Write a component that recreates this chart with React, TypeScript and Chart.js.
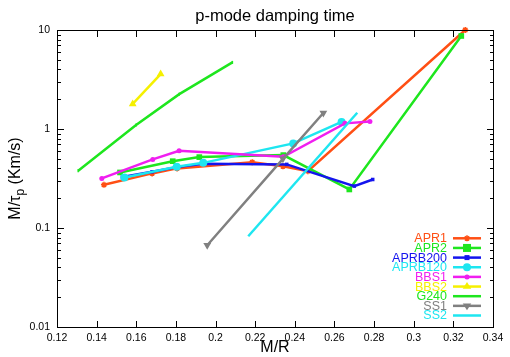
import React, { useEffect, useRef, useState } from "react";
import { Chart, registerables } from "chart.js";

Chart.register(...registerables);

// ---- data ----
const apr1X = [0.1437, 0.168, 0.1806, 0.2185, 0.234, 0.2466, 0.326];
const apr1Y = [0.273, 0.356, 0.4, 0.462, 0.42, 0.375, 10];

const apr2X = [0.1518, 0.1784, 0.1918, 0.2342, 0.2675, 0.324];
const apr2Y = [0.364, 0.473, 0.52, 0.545, 0.245, 8.7];

const aprb200X = [0.153, 0.168, 0.1804, 0.1938, 0.2359, 0.27, 0.2793];
const aprb200Y = [0.327, 0.37, 0.412, 0.445, 0.439, 0.265, 0.309];

const aprb120X = [0.154, 0.1804, 0.1938, 0.2392, 0.2636];
const aprb120Y = [0.324, 0.415, 0.455, 0.715, 1.18];

const bbs1X = [0.1426, 0.1683, 0.1816, 0.2342, 0.2653, 0.2779];
const bbs1Y = [0.317, 0.493, 0.602, 0.524, 1.14, 1.19];

const bbs2X = [0.1582, 0.1723];
const bbs2Y = [1.79, 3.59];

const g240X = [0.1307, 0.1599, 0.1817, 0.2085];
const g240Y = [0.378, 1.095, 2.25, 4.71];

const ss1X = [0.1958, 0.234, 0.2544];
const ss1Y = [0.067, 0.5, 1.45];

const ss2X = [0.2165, 0.2715];
const ss2Y = [0.0826, 1.46];

const xTicks = [0.12, 0.14, 0.16, 0.18, 0.2, 0.22, 0.24, 0.26, 0.28, 0.3, 0.32, 0.34];
const yTicks = [0.01, 0.1, 1, 10];
const yMinorTicks = [
  0.02, 0.03, 0.04, 0.05, 0.06, 0.07, 0.08, 0.09,
  0.2, 0.3, 0.4, 0.5, 0.6, 0.7, 0.8, 0.9,
  2, 3, 4, 5, 6, 7, 8, 9,
];

const seriesNames = ["APR1", "APR2", "APRB200", "APRB120", "BBS1", "BBS2", "G240", "SS1", "SS2"];
const seriesColors = ["#ff4f14", "#1ee61e", "#1414ee", "#1ee6f0", "#f01ef0", "#f5f000", "#1ee61e", "#808080", "#1ee6f0"];
const seriesStyles = ["star", "rect", "rect", "circle", "circle", "triangle", "line", "triangle", false];
const seriesRadii = [3, 4, 2.5, 4, 2.5, 4.5, 1.5, 4.5, 0];
const seriesRot = [0, 0, 0, 0, 0, 0, 90, 180, 0];
const seriesXs = [apr1X, apr2X, aprb200X, aprb120X, bbs1X, bbs2X, g240X, ss1X, ss2X];
const seriesYs = [apr1Y, apr2Y, aprb200Y, aprb120Y, bbs1Y, bbs2Y, g240Y, ss1Y, ss2Y];

const FONT = "'Liberation Sans', Arial, Helvetica, sans-serif";

function drawMarker(ctx: CanvasRenderingContext2D, style: any, x: number, y: number, r: number, color: string, rot: number) {
  if (!style || r <= 0) return;
  ctx.save();
  ctx.fillStyle = color;
  ctx.strokeStyle = color;
  ctx.lineWidth = 1.5;
  ctx.translate(x, y);
  ctx.rotate((rot * Math.PI) / 180);
  ctx.beginPath();
  if (style === "rect") {
    ctx.rect(-r, -r, 2 * r, 2 * r);
    ctx.fill();
  } else if (style === "circle") {
    ctx.arc(0, 0, r, 0, Math.PI * 2);
    ctx.fill();
  } else if (style === "triangle") {
    const h = r * 1.5;
    ctx.moveTo(0, -r);
    ctx.lineTo(r * 0.95, h - r);
    ctx.lineTo(-r * 0.95, h - r);
    ctx.closePath();
    ctx.fill();
  } else if (style === "star") {
    for (let i = 0; i < 4; i++) {
      const a = (i * Math.PI) / 4;
      ctx.moveTo(-Math.cos(a) * r, -Math.sin(a) * r);
      ctx.lineTo(Math.cos(a) * r, Math.sin(a) * r);
    }
    ctx.stroke();
  } else if (style === "line") {
    ctx.moveTo(0, -r);
    ctx.lineTo(0, r);
    ctx.stroke();
  }
  ctx.restore();
}

function drawFrame(chart: any) {
  const ctx: CanvasRenderingContext2D = chart.ctx;
  const area = chart.chartArea;
  const L = Math.round(area.left);
  const R = Math.round(area.right);
  const T = Math.round(area.top);
  const B = Math.round(area.bottom);
  const sx = chart.scales.x;
  const sy = chart.scales.y;
  ctx.save();
  ctx.setTransform(1, 0, 0, 1, 0, 0);
  ctx.globalAlpha = 1;
  ctx.globalCompositeOperation = "source-over";
  ctx.fillStyle = "#000000";
  ctx.fillRect(L, T, R - L + 1, 1);
  ctx.fillRect(L, B, R - L + 1, 1);
  ctx.fillRect(L, T, 1, B - T + 1);
  ctx.fillRect(R, T, 1, B - T + 1);
  for (const v of xTicks) {
    const px = Math.round(sx.getPixelForValue(v));
    ctx.fillRect(px, B - 6, 1, 6);
    ctx.fillRect(px, T + 1, 1, 6);
  }
  for (const v of yTicks) {
    const py = Math.round(sy.getPixelForValue(v));
    ctx.fillRect(L + 1, py, 6, 1);
    ctx.fillRect(R - 6, py, 6, 1);
  }
  for (const v of yMinorTicks) {
    const py = Math.round(sy.getPixelForValue(v));
    ctx.fillRect(L + 1, py, 3, 1);
    ctx.fillRect(R - 3, py, 3, 1);
  }
  ctx.getImageData(L, T, 1, 1);
  ctx.restore();
}

const decorPlugin = {
  id: "decor",
  afterDraw(chart: any) {
    const ctx: CanvasRenderingContext2D = chart.ctx;
    const area = chart.chartArea;
    const L = area.left;
    const R = area.right;
    const T = area.top;
    const B = area.bottom;
    ctx.save();
    ctx.fillStyle = "#000";
    ctx.font = `16.5px ${FONT}`;
    ctx.textAlign = "center";
    ctx.textBaseline = "middle";
    ctx.fillText("p-mode damping time", (L + R) / 2, 16);
    ctx.font = `16px ${FONT}`;
    ctx.fillText("M/R", (L + R) / 2, 348);

    ctx.save();
    ctx.translate(14, (T + B) / 2);
    ctx.rotate(-Math.PI / 2);
    ctx.textBaseline = "alphabetic";
    ctx.textAlign = "left";
    const main = `16px ${FONT}`;
    const sub = `12px ${FONT}`;
    const p1 = "M/\u03c4";
    const p2 = "p";
    const p3 = " (Km/s)";
    ctx.font = main;
    const w1 = ctx.measureText(p1).width;
    const w3 = ctx.measureText(p3).width;
    ctx.font = sub;
    const w2 = ctx.measureText(p2).width;
    const total = w1 + w2 + w3;
    let cx = -total / 2;
    const base = 6;
    ctx.font = main;
    ctx.fillText(p1, cx, base);
    cx += w1;
    ctx.font = sub;
    ctx.fillText(p2, cx, base + 4);
    cx += w2;
    ctx.font = main;
    ctx.fillText(p3, cx, base);
    ctx.restore();

    ctx.font = `12.5px ${FONT}`;
    ctx.textAlign = "right";
    ctx.textBaseline = "middle";
    for (let i = 0; i < seriesNames.length; i++) {
      const y = 238.3 + i * 9.65;
      ctx.fillStyle = seriesColors[i];
      ctx.fillText(seriesNames[i], 447, y + 0.5);
      ctx.strokeStyle = seriesColors[i];
      ctx.lineWidth = 2.5;
      ctx.beginPath();
      ctx.moveTo(453, y);
      ctx.lineTo(481, y);
      ctx.stroke();
      drawMarker(ctx, seriesStyles[i], 467, y, seriesRadii[i], seriesColors[i], seriesRot[i]);
    }
    ctx.restore();
    drawFrame(chart);
  },
};

type Frame = { L: number; R: number; T: number; B: number; xPx: number[]; yMaj: number[]; yMin: number[] };

const hiddenAxis = (position: string, isX: boolean) => ({
  position,
  display: true,
  afterFit: (s: any) => {
    if (isX) s.height = 0;
    else s.width = 0;
  },
  grid: { display: true, drawOnChartArea: false, drawTicks: false, color: "rgba(0,0,0,0)" },
  border: { display: true, color: "#000", width: 1 },
  ticks: { display: false },
});

export default function App() {
  const ref = useRef<HTMLCanvasElement>(null);
  const [frame, setFrame] = useState<Frame | null>(null);

  useEffect(() => {
    if (!ref.current) return;
    try {
      ref.current.getContext("2d", { willReadFrequently: true } as any);
    } catch (e) {}
    const datasets = seriesNames.map((name, i) => ({
      label: name,
      data: seriesXs[i].map((x, j) => ({ x, y: seriesYs[i][j] })),
      borderColor: seriesColors[i],
      backgroundColor: seriesColors[i],
      borderWidth: 2.5,
      pointStyle: seriesStyles[i] as any,
      pointRadius: seriesRadii[i],
      pointRotation: seriesRot[i],
      pointBorderWidth: seriesStyles[i] === "star" || seriesStyles[i] === "line" ? 1.5 : 0,
      showLine: true,
      tension: 0,
      clip: false as any,
      order: -i,
    }));
    const chart = new Chart(ref.current, {
      type: "scatter",
      data: { datasets },
      options: {
        animation: false,
        responsive: false,
        maintainAspectRatio: false,
        layout: { padding: { top: 30, right: 17, left: 0, bottom: 0 } },
        plugins: { legend: { display: false }, title: { display: false }, tooltip: { enabled: false } },
        scales: {
          x: {
            type: "linear",
            position: "bottom",
            min: 0.12,
            max: 0.34,
            afterBuildTicks: (s: any) => {
              s.ticks = xTicks.map((v) => ({ value: v }));
            },
            afterFit: (s: any) => {
              s.height = 30;
            },
            grid: { display: true, drawOnChartArea: false, drawTicks: false, color: "rgba(0,0,0,0)" },
            border: { display: true, color: "#000", width: 1 },
            ticks: {
              padding: 5,
              maxRotation: 0,
              autoSkip: false,
              color: "#000",
              font: { family: FONT, size: 10.5 },
              callback: (v: any) => String(Number(Number(v).toFixed(2))),
            },
          },
          y: {
            type: "logarithmic",
            position: "left",
            min: 0.01,
            max: 10,
            afterBuildTicks: (s: any) => {
              s.ticks = yTicks.map((v) => ({ value: v }));
            },
            afterFit: (s: any) => {
              s.width = 57;
            },
            grid: { display: true, drawOnChartArea: false, drawTicks: false, color: "rgba(0,0,0,0)" },
            border: { display: true, color: "#000", width: 1 },
            ticks: {
              padding: 7,
              autoSkip: false,
              color: "#000",
              font: { family: FONT, size: 10.5 },
              callback: (v: any) => String(Number(v)),
            },
          },
          x2: { type: "linear", min: 0.12, max: 0.34, ...hiddenAxis("top", true) } as any,
          y2: { type: "logarithmic", min: 0.01, max: 10, ...hiddenAxis("right", false) } as any,
        },
      },
      plugins: [decorPlugin],
    });
    const a = chart.chartArea;
    const sx: any = chart.scales.x;
    const sy: any = chart.scales.y;
    setFrame({
      L: Math.round(a.left),
      R: Math.round(a.right),
      T: Math.round(a.top),
      B: Math.round(a.bottom),
      xPx: xTicks.map((v) => Math.round(sx.getPixelForValue(v))),
      yMaj: yTicks.map((v) => Math.round(sy.getPixelForValue(v))),
      yMin: yMinorTicks.map((v) => Math.round(sy.getPixelForValue(v))),
    });
    return () => chart.destroy();
  }, []);

  const box = (k: string, left: number, top: number, width: number, height: number) => (
    <div key={k} style={{ position: "absolute", left, top, width, height, background: "#000" }} />
  );

  const overlay: any[] = [];
  if (frame) {
    const { L, R, T, B } = frame;
    overlay.push(box("ft", L, T, R - L + 1, 1));
    overlay.push(box("fb", L, B, R - L + 1, 1));
    overlay.push(box("fl", L, T, 1, B - T + 1));
    overlay.push(box("fr", R, T, 1, B - T + 1));
    frame.xPx.forEach((px, i) => {
      overlay.push(box("xb" + i, px, B - 6, 1, 6));
      overlay.push(box("xt" + i, px, T + 1, 1, 6));
    });
    frame.yMaj.forEach((py, i) => {
      overlay.push(box("yl" + i, L + 1, py, 6, 1));
      overlay.push(box("yr" + i, R - 6, py, 6, 1));
    });
    frame.yMin.forEach((py, i) => {
      overlay.push(box("ml" + i, L + 1, py, 3, 1));
      overlay.push(box("mr" + i, R - 3, py, 3, 1));
    });
  }

  return (
    <div style={{ position: "fixed", left: 0, top: 0, width: 510, height: 357, background: "#fff" }}>
      <canvas ref={ref} width={510} height={357} style={{ width: 510, height: 357, display: "block" }} />
      {overlay}
    </div>
  );
}
